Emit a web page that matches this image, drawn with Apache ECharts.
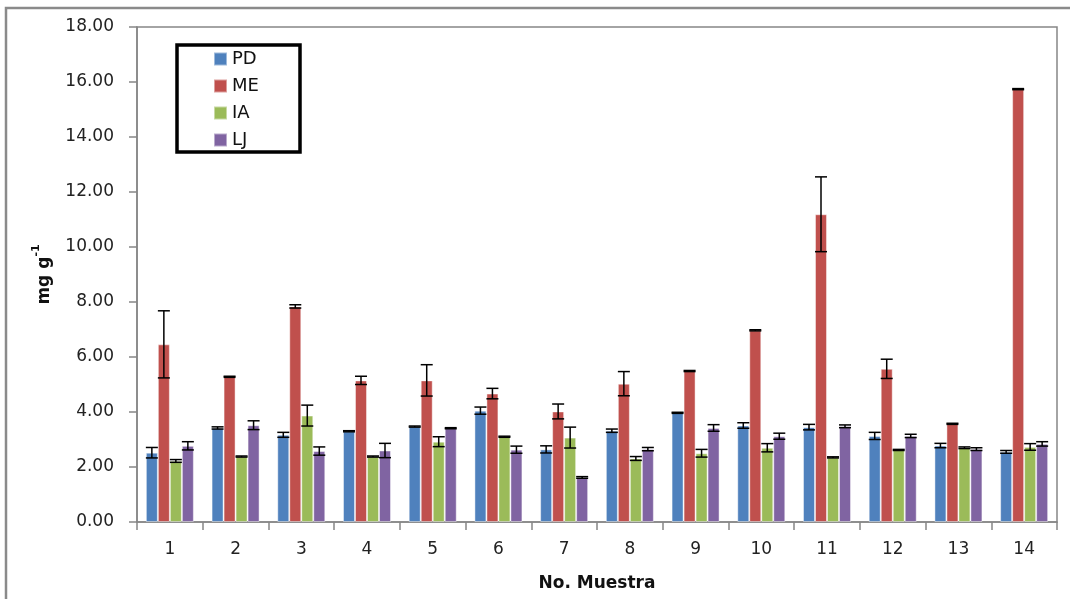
<!DOCTYPE html>
<html>
<head>
<meta charset="utf-8">
<script src="https://cdn.jsdelivr.net/npm/echarts@6/dist/echarts.min.js"></script>
<style>
  html, body { margin: 0; padding: 0; background: #fff; }
  #chart { width: 1070px; height: 599px; }
</style>
</head>
<body>
<div id="chart"></div>
<script>
// Sample numbers on the x axis
const categories = ['1','2','3','4','5','6','7','8','9','10','11','12','13','14'];
const seriesNames = ['PD', 'ME', 'IA', 'LJ'];
const yTicks = [0, 2, 4, 6, 8, 10, 12, 14, 16, 18];

// Mean concentrations (mg g-1)
const pd = [2.52, 3.42, 3.17, 3.30, 3.47, 4.05, 2.64, 3.32, 3.97, 3.51, 3.45, 3.13, 2.78, 2.55];
const me = [6.46, 5.28, 7.84, 5.15, 5.15, 4.67, 4.02, 5.03, 5.49, 6.97, 11.19, 5.57, 3.57, 15.74];
const ia = [2.22, 2.38, 3.87, 2.38, 2.92, 3.10, 3.07, 2.31, 2.50, 2.70, 2.35, 2.62, 2.70, 2.73];
const lj = [2.77, 3.52, 2.58, 2.60, 3.41, 2.63, 1.62, 2.65, 3.42, 3.12, 3.48, 3.13, 2.65, 2.84];

// Standard deviations (error bars)
const pdErr = [0.19, 0.04, 0.09, 0.02, 0.02, 0.13, 0.13, 0.06, 0.02, 0.10, 0.10, 0.13, 0.08, 0.05];
const meErr = [1.22, 0.02, 0.06, 0.15, 0.57, 0.19, 0.27, 0.44, 0.02, 0.02, 1.36, 0.35, 0.02, 0.02];
const iaErr = [0.05, 0.02, 0.38, 0.02, 0.18, 0.02, 0.38, 0.07, 0.14, 0.15, 0.02, 0.02, 0.03, 0.12];
const ljErr = [0.15, 0.16, 0.15, 0.26, 0.02, 0.13, 0.03, 0.06, 0.12, 0.11, 0.05, 0.06, 0.05, 0.08];

const colors = ['#4F81BD', '#C0504D', '#9BBB59', '#8064A2'];
const means = [pd, me, ia, lj];
const errs = [pdErr, meErr, iaErr, ljErr];

const FONT = '"DejaVu Sans", Verdana, sans-serif';
const AXIS_GREY = '#868686';
const BAR_W = 12;

const chart = echarts.init(document.getElementById('chart'), null, { renderer: 'canvas' });

const barSeries = seriesNames.map((name, k) => ({
  name: name,
  type: 'bar',
  data: means[k],
  barWidth: BAR_W,
  barGap: '0%',
  itemStyle: { color: colors[k], borderColor: 'rgba(255,255,255,0.45)', borderWidth: 1 },
  emphasis: { disabled: true },
  z: 2
}));

// Error bars, one custom series per group member, shifted to sit on its bar
const errSeries = seriesNames.map((name, k) => ({
  type: 'custom',
  name: name + ' err',
  z: 5,
  silent: true,
  data: means[k].map((v, i) => [i, v - errs[k][i], v + errs[k][i]]),
  renderItem: function (params, api) {
    const i = api.value(0);
    const lo = api.coord([i, api.value(1)]);
    const hi = api.coord([i, api.value(2)]);
    const x = lo[0] + (k - 1.5) * BAR_W;
    const half = BAR_W / 2;
    const style = { stroke: '#000', lineWidth: 1.5 };
    return {
      type: 'group',
      children: [
        { type: 'line', shape: { x1: x, y1: hi[1], x2: x, y2: lo[1] }, style: style },
        { type: 'line', shape: { x1: x - half, y1: hi[1], x2: x + half, y2: hi[1] }, style: style },
        { type: 'line', shape: { x1: x - half, y1: lo[1], x2: x + half, y2: lo[1] }, style: style }
      ]
    };
  }
}));

const option = {
  backgroundColor: '#fff',
  animation: false,
  textStyle: { fontFamily: FONT },
  color: colors,
  grid: {
    left: 137, right: 13, top: 27, bottom: 77,
    show: true, borderColor: AXIS_GREY, borderWidth: 1.5, backgroundColor: 'transparent'
  },
  legend: {
    data: seriesNames,
    orient: 'vertical',
    left: 213,
    top: 49,
    padding: 0,
    itemWidth: 13,
    itemHeight: 13,
    itemGap: 7,
    icon: 'rect',
    textStyle: { fontFamily: FONT, fontSize: 18, color: '#111', lineHeight: 20 }
  },
  xAxis: {
    type: 'category',
    data: categories,
    name: 'No. Muestra',
    nameLocation: 'middle',
    nameGap: 53,
    nameTextStyle: { fontFamily: FONT, fontSize: 17, fontWeight: 'bold', color: '#111' },
    axisLine: { lineStyle: { color: AXIS_GREY, width: 1.5 } },
    axisTick: { show: true, length: 8, lineStyle: { color: AXIS_GREY, width: 1.5 } },
    axisLabel: { fontSize: 17, color: '#222', margin: 19, fontFamily: FONT },
    splitLine: { show: false }
  },
  yAxis: {
    type: 'value',
    min: yTicks[0],
    max: yTicks[yTicks.length - 1],
    interval: yTicks[1] - yTicks[0],
    name: '{a|mg g}{s|-1}',
    nameLocation: 'middle',
    nameRotate: 90,
    nameGap: 84,
    nameTextStyle: {
      rich: {
        a: { fontFamily: FONT, fontSize: 17, fontWeight: 'bold', color: '#111', lineHeight: 22, verticalAlign: 'bottom' },
        s: { fontFamily: FONT, fontSize: 11, fontWeight: 'bold', color: '#111', lineHeight: 22, verticalAlign: 'top', padding: [0, 0, 10, 0] }
      }
    },
    axisLine: { show: true, lineStyle: { color: AXIS_GREY, width: 1.5 } },
    axisTick: { show: true, length: 8, lineStyle: { color: AXIS_GREY, width: 1.5 } },
    axisLabel: { fontSize: 17, color: '#222', margin: 23, fontFamily: FONT,
      formatter: v => v.toFixed(2) },
    splitLine: { show: false }
  },
  graphic: [
    // outer chart frame (top and left edges visible)
    { type: 'rect', shape: { x: 6, y: 8, width: 1200, height: 800 },
      style: { fill: 'none', stroke: '#8a8a8a', lineWidth: 2.5 }, z: 0, silent: true },
    // legend box
    { type: 'rect', shape: { x: 177, y: 45, width: 123, height: 107 },
      style: { fill: '#fff', stroke: '#000', lineWidth: 3.5 }, z: 3, silent: true }
  ],
  series: barSeries.concat(errSeries)
};

chart.setOption(option);
</script>
</body>
</html>
